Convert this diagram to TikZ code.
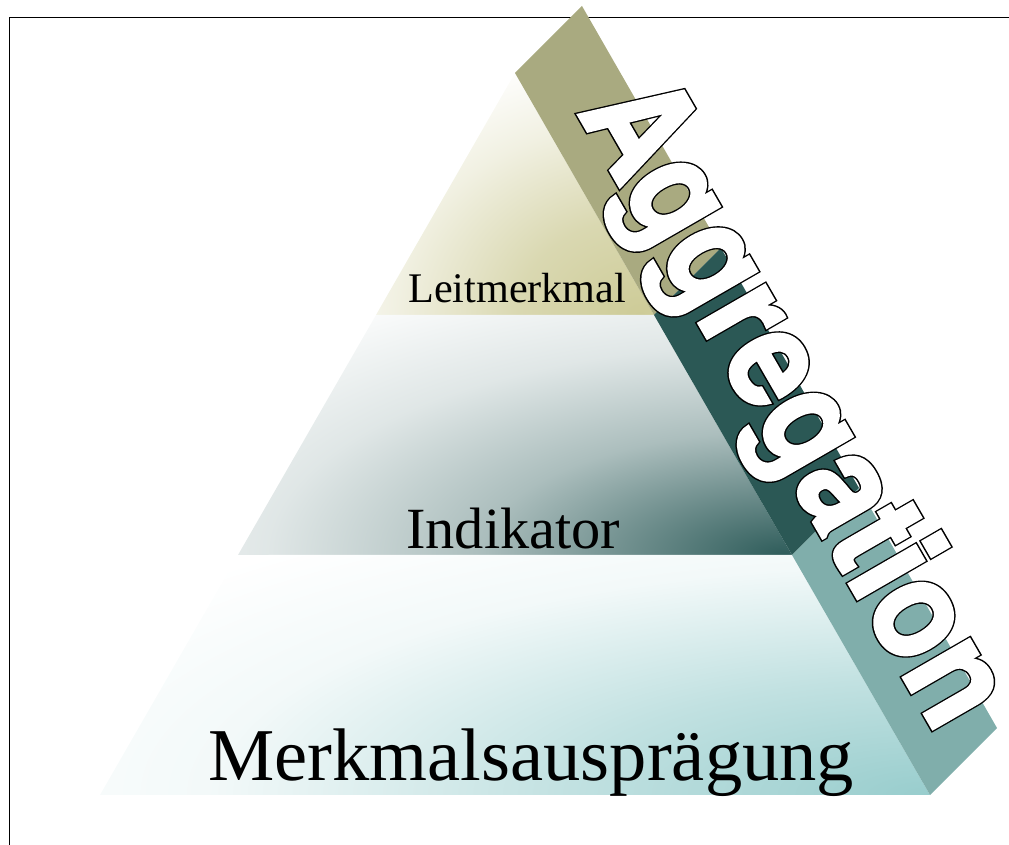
\documentclass[tikz,border=0pt]{standalone}
\usepackage{fontspec}
\setmainfont{Liberation Serif}
\newfontfamily\aggfont{texgyreheros-bold.otf}

\definecolor{leitKhaki}{HTML}{CDCB97}
\definecolor{indTeal}{HTML}{2E5C5A}
\definecolor{auspTeal}{HTML}{98CDCD}
\definecolor{bandOlive}{HTML}{A9AA80}
\definecolor{bandDark}{HTML}{2B5855}
\definecolor{bandLight}{HTML}{80AEAB}

% Konturschrift: weiss gefuellt (leicht verfettet), schwarz umrandet
\newcommand{\umriss}[1]{%
  \rlap{\special{pdf:literal direct 2 Tr 0 G 2 M 4.6 w}#1}%
  \special{pdf:literal direct 2 Tr 1 G 2.4 w}#1%
  \special{pdf:literal direct 0 Tr}}

% Verlaeufe der Stufen, jeweils von der rechten unteren Ecke aus
\pgfdeclareradialshading{leitGlow}{\pgfpointorigin}{color(0bp)=(leitKhaki); color(9bp)=(leitKhaki!75!white); color(18bp)=(leitKhaki!28!white); color(25bp)=(white); color(50bp)=(white)}
\pgfdeclareradialshading{indGlow}{\pgfpointorigin}{color(0bp)=(indTeal); color(5bp)=(indTeal!70!white); color(10bp)=(indTeal!40!white); color(17bp)=(indTeal!15!white); color(25bp)=(white); color(50bp)=(white)}
\pgfdeclareradialshading{auspGlow}{\pgfpointorigin}{color(0bp)=(auspTeal); color(9bp)=(auspTeal!60!white); color(18bp)=(auspTeal!12!white); color(25bp)=(white); color(50bp)=(white)}

\begin{document}
\begin{tikzpicture}[
    x=0.025cm, y=-0.025cm,
    frame/.style={line width=1.4pt, line cap=rect},
    label/.style={inner sep=0, anchor=base west},
    band/.style={draw=none}
]
  \useasboundingbox (0,0) rectangle (1009,845);

  % Rahmen
  \draw[frame] (9.5,845) -- (9.5,17.5) -- (1009,17.5);

  % Pyramidenstufen
  \begin{scope}
    \clip (515,73) -- (654,315) -- (376,315) -- cycle;
    \shade[shading=leitGlow] (640,315) ellipse (340 and 270);
  \end{scope}
  \begin{scope}
    \clip (376,315) -- (654,315) -- (792,555) -- (238,555) -- cycle;
    \shade[shading=indGlow] (785,555) ellipse (760 and 310);
  \end{scope}
  \begin{scope}
    \clip (238,555) -- (792,555) -- (930,795) -- (100,795) -- cycle;
    \shade[shading=auspGlow] (930,795) ellipse (1000 and 320);
  \end{scope}

  % Seitenband
  \fill[band, bandOlive] (515,73) -- (582,6) -- (721,248) -- (654,315) -- cycle;
  \fill[band, bandDark] (654,315) -- (721,248) -- (859,488) -- (792,555) -- cycle;
  \fill[band, bandLight] (792,555) -- (859,488) -- (997,728) -- (930,795) -- cycle;

  % Beschriftungen
  \node[label, font=\fontsize{30}{30}\selectfont] (leit) at (408,303) {Leitmerkmal};
  \node[label, font=\fontsize{41.5}{41.5}\selectfont] (indikator) at (406,549) {Indikator};
  \node[label, font=\fontsize{53}{53}\selectfont] (auspraegung) at (208,781) {Merkmalsausprägung};

  \node[label, rotate=-60, xscale=0.87, text=white,
        font=\aggfont\fontsize{100}{100}\selectfont]
    (aggregation) at (577,112) {\umriss{Aggregation}};
\end{tikzpicture}
\end{document}
